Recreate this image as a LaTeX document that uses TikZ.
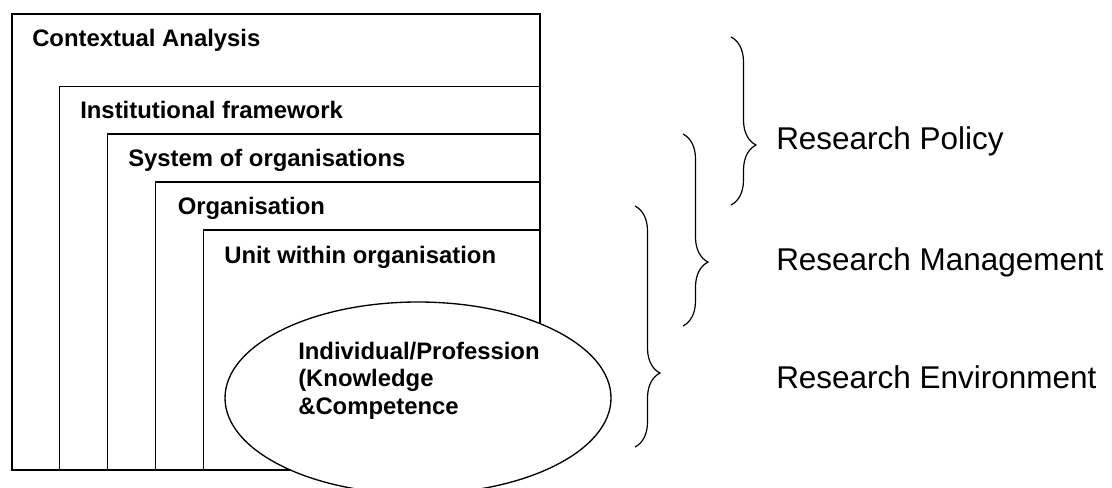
\documentclass[tikz,border=0pt]{standalone}
\usepackage{fontspec}
\setmainfont{Liberation Sans}
\usetikzlibrary{decorations.pathreplacing}
\tikzstyle{layer} = [draw, line width=1.2pt]
\tikzstyle{layertext} = [anchor=base west, inner sep=0pt, font=\bfseries\fontsize{17.9}{20.6}\selectfont]
\tikzstyle{leveltext} = [anchor=base west, inner sep=0pt, font=\fontsize{23.6}{28}\selectfont]
\tikzset{levelbrace/.style={decorate, decoration={brace, amplitude=18.75pt, aspect=#1}, line width=0.9pt}}

\begin{document}
\begin{tikzpicture}[x=0.75pt, y=-0.75pt]
		\useasboundingbox (0,0) rectangle (1112,488);

		% nested layers, outermost first
		\draw [layer] (11.7,14) rectangle (540,470);
		\node [layertext] (ctx) at (32,46.7) {Contextual Analysis};
		\draw [layer] (59.3,86.7) rectangle (540,470);
		\node [layertext] (inst) at (80,119) {Institutional framework};
		\draw [layer] (107.3,134.3) rectangle (540,470);
		\node [layertext] (sys) at (128,166.7) {System of organisations};
		\draw [layer] (155.3,182.3) rectangle (540,470);
		\node [layertext] (org) at (177.5,214.3) {Organisation};
		\draw [layer] (203.3,230) rectangle (540,470);
		\node [layertext] (unit) at (224,263.3) {Unit within organisation};

		% the individual sits on top of the unit box
		\coordinate (indiv) at (418,398);
		\draw [layer, line width=1pt, fill=white] (indiv) ellipse [x radius=193, y radius=96];
		% base of a multi-line node is its last line
		\node [layertext, align=left] (prof) at (298,414) {Individual/Profession\\(Knowledge\\\&Competence};

		% braces for the three levels
		\coordinate (pol_a) at (731,37);
		\coordinate (pol_b) at (731,205);
		\draw [levelbrace=0.643] (pol_a) -- (pol_b);
		\node [leveltext] (policy) at (776,150) {Research Policy};

		\coordinate (man_a) at (683,134);
		\coordinate (man_b) at (683,326);
		\draw [levelbrace=0.667] (man_a) -- (man_b);
		\node [leveltext] (manage) at (776,270) {Research Management};

		\coordinate (env_a) at (635,206);
		\coordinate (env_b) at (635,447);
		\draw [levelbrace=0.693] (env_a) -- (env_b);
		\node [leveltext] (environ) at (776,388) {Research Environment};
\end{tikzpicture}
\end{document}
